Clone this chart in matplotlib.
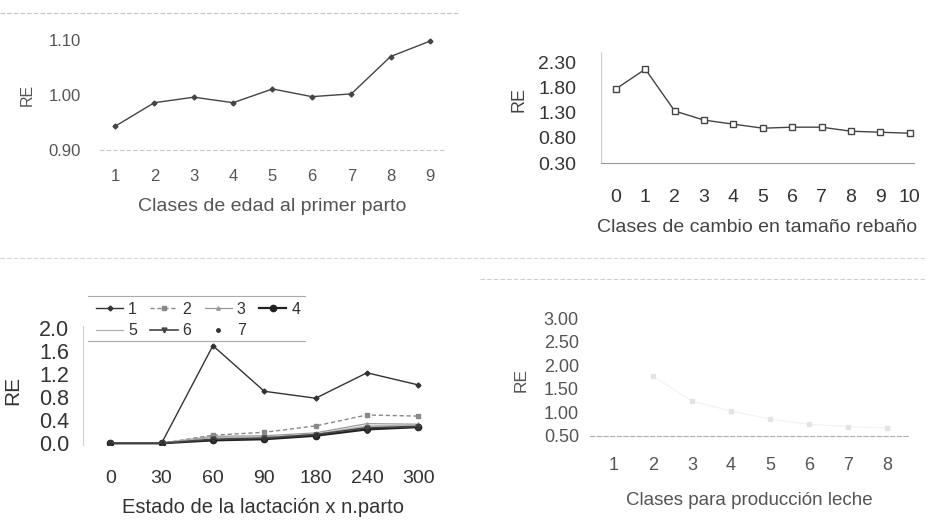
import numpy as np
import matplotlib
matplotlib.use("Agg")
import matplotlib.pyplot as plt
from matplotlib.lines import Line2D

plt.rcParams['font.family'] = ['Liberation Sans', 'DejaVu Sans']

W, H = 928, 521

# Clases de edad al primer parto
edad_x = [1, 2, 3, 4, 5, 6, 7, 8, 9]
edad_re = [0.943, 0.986, 0.996, 0.986, 1.011, 0.997, 1.002, 1.070, 1.098]

# Clases de cambio en tamaño rebaño
rebano_x = [0, 1, 2, 3, 4, 5, 6, 7, 8, 9, 10]
rebano_re = [1.77, 2.16, 1.33, 1.15, 1.07, 0.99, 1.01, 1.01, 0.93, 0.91, 0.89]

# Estado de la lactación x n.parto
lact_labels = ['0', '30', '60', '90', '180', '240', '300']
parto_1 = [0.0, 0.0, 1.69, 0.90, 0.78, 1.22, 1.01]
parto_2 = [0.0, 0.0, 0.14, 0.19, 0.30, 0.49, 0.47]
parto_3 = [0.0, 0.0, 0.12, 0.13, 0.18, 0.34, 0.33]
parto_4 = [0.0, 0.0, 0.05, 0.07, 0.13, 0.24, 0.28]
parto_5 = [0.0, 0.0, 0.10, 0.11, 0.16, 0.30, 0.31]
parto_6 = [0.0, 0.0, 0.07, 0.09, 0.15, 0.27, 0.29]
parto_7 = [0.0, 0.0, 0.06, 0.08, 0.14, 0.22, 0.26]

# Clases para producción leche (casi borrado en el original)
leche_x = [1, 2, 3, 4, 5, 6, 7, 8]
leche_re = [np.nan, 1.77, 1.24, 1.03, 0.86, 0.75, 0.70, 0.67]


def box(left, top, right, bottom):
    # pixeles -> fraccion de figura
    return [left / W, 1 - bottom / H, (right - left) / W, (bottom - top) / H]


fig = plt.figure(figsize=(W / 100, H / 100), dpi=100)

# lineas sueltas del escaneo
for y0, x0, x1, c in [(13, 0, 460, '#c4c4c4'), (258, 0, 928, '#d6d6d6'),
                      (279, 480, 928, '#d0d0d0')]:
    fig.add_artist(Line2D([x0 / W, x1 / W], [1 - y0 / H, 1 - y0 / H],
                          color=c, lw=0.8, ls=(0, (4, 2))))

# ---- arriba izquierda
ax1 = fig.add_axes(box(100, 29, 445, 150))
ax1.plot(edad_x, edad_re, color='#444444', lw=1.0, marker='D', ms=2.5)
ax1.set_xlim(0.62, 9.38)
ax1.set_ylim(0.904, 1.12)
ax1.set_yticks([0.90, 1.00, 1.10])
ax1.set_yticklabels(['0.90', '1.00', '1.10'])
ax1.set_xticks(edad_x)
for s in ['top', 'right', 'left']:
    ax1.spines[s].set_visible(False)
ax1.spines['bottom'].set_color('#c8c8c8')
ax1.spines['bottom'].set_linestyle((0, (3, 3)))
ax1.tick_params(length=0, labelsize=12, colors='#555555', pad=14)
ax1.tick_params(axis='y', pad=14)
ax1.set_xlabel('Clases de edad al primer parto', fontsize=14, color='#555555', labelpad=10)
fig.text(27 / W, 1 - 95 / H, 'RE', rotation=90, ha='center', va='center', fontsize=11.5, color='#555555')

# ---- arriba derecha
ax2 = fig.add_axes(box(601, 52, 914, 163))
ax2.plot(rebano_x, rebano_re, color='#444444', lw=1.0, marker='s', ms=4,
         mfc='white', mec='#444444')
ax2.set_xlim(-0.51, 10.15)
ax2.set_ylim(0.30, 2.50)
ax2.set_yticks([0.30, 0.80, 1.30, 1.80, 2.30])
ax2.set_yticklabels(['0.30', '0.80', '1.30', '1.80', '2.30'])
ax2.set_xticks(rebano_x)
for s in ['top', 'right']:
    ax2.spines[s].set_visible(False)
ax2.spines['left'].set_color('#d0d0d0')
ax2.spines['bottom'].set_color('#999999')
ax2.tick_params(length=0, labelsize=14, colors='#333333')
ax2.tick_params(axis='y', pad=18)
ax2.tick_params(axis='x', pad=19)
ax2.set_xlabel('Clases de cambio en tamaño rebaño', fontsize=14, color='#444444', labelpad=9)
fig.text(519 / W, 1 - 100 / H, 'RE', rotation=90, ha='center', va='center', fontsize=13, color='#444444')

# ---- abajo izquierda
ax3 = fig.add_axes(box(83, 326, 444, 445))
xi = np.arange(len(lact_labels))
estilos = [
    (parto_1, '1', dict(color='#333333', lw=1.0, marker='D', ms=2.5)),
    (parto_2, '2', dict(color='#888888', lw=1.0, ls=(0, (3, 2)), marker='s', ms=3)),
    (parto_3, '3', dict(color='#999999', lw=0.9, marker='^', ms=2.5)),
    (parto_4, '4', dict(color='#222222', lw=1.6, marker='o', ms=4.5)),
    (parto_5, '5', dict(color='#b0b0b0', lw=0.9)),
    (parto_6, '6', dict(color='#444444', lw=1.2, marker='v', ms=3.5)),
    (parto_7, '7', dict(color='#333333', lw=0, marker='o', ms=2.5)),
]
lineas = []
for serie, nombre, kw in estilos:
    lineas += ax3.plot(xi, serie, label=nombre, **kw)
ax3.set_xlim(-0.53, 6.5)
ax3.set_ylim(-0.03, 2.03)
ax3.set_yticks([0.0, 0.4, 0.8, 1.2, 1.6, 2.0])
ax3.set_yticklabels(['0.0', '0.4', '0.8', '1.2', '1.6', '2.0'])
ax3.set_xticks(xi)
ax3.set_xticklabels(lact_labels)
for s in ['top', 'right', 'bottom']:
    ax3.spines[s].set_visible(False)
ax3.spines['left'].set_color('#d0d0d0')
ax3.tick_params(length=0, labelsize=14, colors='#333333')
ax3.tick_params(axis='y', labelsize=15.5, pad=10)
ax3.tick_params(axis='x', pad=18)
ax3.set_xlabel('Estado de la lactación x n.parto', fontsize=14.5, color='#333333', labelpad=8)
fig.text(13 / W, 1 - 390 / H, 'RE', rotation=90, ha='center', va='center', fontsize=15, color='#333333')
# leyenda en filas: 1 2 3 4 / 5 6 7
orden = [0, 4, 1, 5, 2, 6, 3]
leg = fig.legend([lineas[i] for i in orden], [lineas[i].get_label() for i in orden],
                 loc='upper left', bbox_to_anchor=(96 / W, 1 - 302 / H), ncol=4,
                 frameon=False, fontsize=11.5, handlelength=1.7, handletextpad=0.3,
                 columnspacing=0.85, labelspacing=0.4, borderaxespad=0, borderpad=0)
for t in leg.get_texts():
    t.set_color('#333333')
for y0 in [296, 341]:
    fig.add_artist(Line2D([88 / W, 305 / W], [1 - y0 / H, 1 - y0 / H], color='#aaaaaa', lw=0.8))

# ---- abajo derecha
ax4 = fig.add_axes(box(590, 316, 908, 436))
ax4.plot(leche_x, leche_re, color='#f2f2f2', lw=0.8, marker='s', ms=2.5,
         mec='#e4e4e4', mfc='#e4e4e4')
ax4.set_xlim(0.385, 8.54)
ax4.set_ylim(0.50, 3.05)
ax4.set_yticks([0.50, 1.00, 1.50, 2.00, 2.50, 3.00])
ax4.set_yticklabels(['0.50', '1.00', '1.50', '2.00', '2.50', '3.00'])
ax4.set_xticks(leche_x)
for s in ['top', 'right', 'left']:
    ax4.spines[s].set_visible(False)
ax4.spines['bottom'].set_color('#b0b0b0')
ax4.spines['bottom'].set_linestyle((0, (4, 2)))
ax4.tick_params(length=0, labelsize=13, colors='#555555')
ax4.tick_params(axis='y', pad=8)
ax4.tick_params(axis='x', pad=15)
ax4.set_xlabel('Clases para producción leche', fontsize=13.5, color='#555555', labelpad=13)
fig.text(521 / W, 1 - 380 / H, 'RE', rotation=90, ha='center', va='center', fontsize=12.5, color='#555555')

fig.savefig('out.png', dpi=100)
